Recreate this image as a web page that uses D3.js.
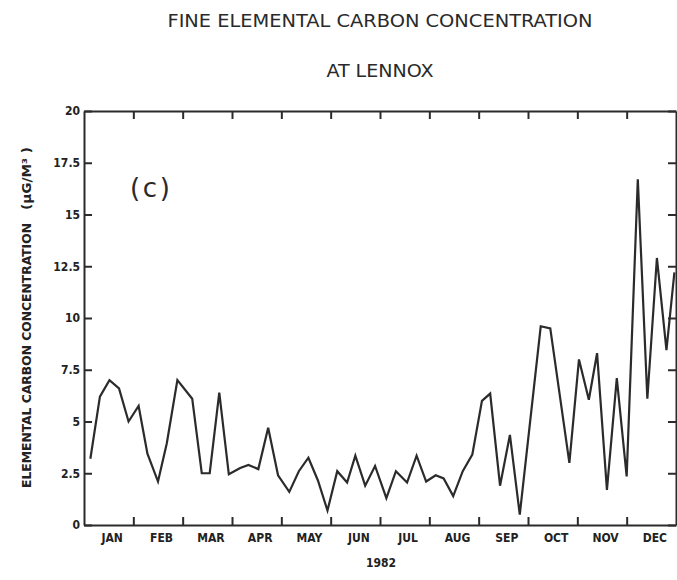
<!DOCTYPE html>
<html>
<head>
<meta charset="utf-8">
<script src="https://cdn.jsdelivr.net/npm/d3@7"></script>
<style>
  html, body { margin: 0; padding: 0; background: #ffffff; }
  svg { display: block; }
  .axis path, .axis line { stroke: #2b2b2b; stroke-width: 2px; }
  .axis text { font-family: "DejaVu Sans Condensed", "DejaVu Sans", sans-serif; font-weight: bold; font-size: 12px; fill: #222; }
</style>
</head>
<body>
<div id="chart"></div>
<script>
// Fine elemental carbon, Lennox, 1982 — one filter sample roughly every six days
const sampleDates = [
  "1982-01-05", "1982-01-11", "1982-01-17", "1982-01-23", "1982-01-29",
  "1982-02-04", "1982-02-09", "1982-02-15", "1982-02-20", "1982-02-26",
  "1982-03-07", "1982-03-13", "1982-03-18", "1982-03-24", "1982-03-30",
  "1982-04-06", "1982-04-11", "1982-04-17", "1982-04-23", "1982-04-29",
  "1982-05-06", "1982-05-12", "1982-05-18", "1982-05-24", "1982-05-30",
  "1982-06-05", "1982-06-11", "1982-06-16", "1982-06-22", "1982-06-28",
  "1982-07-05", "1982-07-11", "1982-07-18", "1982-07-24", "1982-07-30",
  "1982-08-05", "1982-08-10", "1982-08-16", "1982-08-22", "1982-08-28",
  "1982-09-03", "1982-09-08", "1982-09-14", "1982-09-20", "1982-09-26",
  "1982-10-09", "1982-10-15", "1982-10-27",
  "1982-11-02", "1982-11-08", "1982-11-13", "1982-11-19", "1982-11-25",
  "1982-12-01", "1982-12-08", "1982-12-14", "1982-12-20", "1982-12-26", "1982-12-31"
];
const ecValues = [
  3.2, 6.2, 7.0, 6.6, 5.0,
  5.75, 3.45, 2.1, 3.95, 7.0,
  6.1, 2.5, 2.5, 6.4, 2.45,
  2.75, 2.9, 2.7, 4.7, 2.4,
  1.6, 2.6, 3.25, 2.15, 0.7,
  2.6, 2.05, 3.35, 1.9, 2.85,
  1.3, 2.6, 2.05, 3.35, 2.1,
  2.4, 2.25, 1.4, 2.6, 3.4,
  6.0, 6.35, 1.9, 4.35, 0.5,
  9.6, 9.5, 3.0,
  8.0, 6.05, 8.3, 1.7, 7.1,
  2.35, 16.7, 6.1, 12.9, 8.45, 12.2
];
const monthNames = ["JAN", "FEB", "MAR", "APR", "MAY", "JUN", "JUL", "AUG", "SEP", "OCT", "NOV", "DEC"];
const yTickValues = [0, 2.5, 5, 7.5, 10, 12.5, 15, 17.5, 20];
const yTickLabels = ["0", "2.5", "5", "7.5", "10", "12.5", "15", "17.5", "20"];

const W = 677, H = 580;
const plot = { left: 84, right: 676, top: 111, bottom: 525 };

const svg = d3.select("#chart").append("svg")
  .attr("width", W).attr("height", H);

// The time axis gives every month the same width
const parse = d3.timeParse("%Y-%m-%d");
function monthPosition(str) {
  const d = parse(str);
  const m = d.getMonth();
  const days = new Date(d.getFullYear(), m + 1, 0).getDate();
  return m + (d.getDate() - 1) / days;
}

const x = d3.scaleLinear().domain([0, 12]).range([plot.left, plot.right]);
const y = d3.scaleLinear().domain([0, 20]).range([plot.bottom, plot.top]);

const points = sampleDates.map((s, i) => ({ m: monthPosition(s), v: ecValues[i] }));

// Titles
const condFont = '"DejaVu Sans Condensed", "DejaVu Sans", sans-serif';
svg.append("text")
  .attr("x", 380).attr("y", 27)
  .attr("text-anchor", "middle")
  .attr("font-family", condFont).attr("font-size", 17)
  .attr("fill", "#2a2a2a")
  .attr("textLength", 425).attr("lengthAdjust", "spacingAndGlyphs")
  .text("FINE ELEMENTAL CARBON CONCENTRATION");
svg.append("text")
  .attr("x", 380).attr("y", 77)
  .attr("text-anchor", "middle")
  .attr("font-family", condFont).attr("font-size", 17)
  .attr("fill", "#2a2a2a")
  .attr("textLength", 107).attr("lengthAdjust", "spacingAndGlyphs")
  .text("AT LENNOX");

// Clip the series to the plot frame
svg.append("clipPath").attr("id", "plot-clip")
  .append("rect")
  .attr("x", x(0)).attr("y", y(20))
  .attr("width", x(12) - x(0)).attr("height", y(0) - y(20));

const monthBounds = d3.range(1, 12);
const monthCentres = d3.range(12).map(i => i + 0.5);

// Left axis with inward ticks and labels
svg.append("g").attr("class", "axis")
  .attr("transform", `translate(${x(0)},0)`)
  .call(d3.axisLeft(y).tickValues(yTickValues)
    .tickFormat((d, i) => yTickLabels[i])
    .tickSizeInner(-8).tickSizeOuter(0).tickPadding(4));

// Right axis, ticks only
svg.append("g").attr("class", "axis")
  .attr("transform", `translate(${x(12)},0)`)
  .call(d3.axisRight(y).tickValues(yTickValues).tickFormat("")
    .tickSizeInner(-8).tickSizeOuter(0));

// Bottom axis: month boundaries
svg.append("g").attr("class", "axis")
  .attr("transform", `translate(0,${y(0)})`)
  .call(d3.axisBottom(x).tickValues(monthBounds).tickFormat("")
    .tickSizeInner(-8).tickSizeOuter(0));

// Top axis: month boundaries
svg.append("g").attr("class", "axis")
  .attr("transform", `translate(0,${y(20)})`)
  .call(d3.axisTop(x).tickValues(monthBounds).tickFormat("")
    .tickSizeInner(-8).tickSizeOuter(0));

// Month names centred in each month
const monthAxis = svg.append("g").attr("class", "axis")
  .attr("transform", `translate(3,${y(0)})`)
  .call(d3.axisBottom(x).tickValues(monthCentres)
    .tickFormat((d, i) => monthNames[i])
    .tickSize(0).tickPadding(8));
monthAxis.select(".domain").remove();

// Year label
svg.append("text")
  .attr("x", 381).attr("y", 567)
  .attr("text-anchor", "middle")
  .attr("font-family", condFont).attr("font-weight", "bold").attr("font-size", 12)
  .attr("fill", "#222")
  .text("1982");

// Y axis title
svg.append("text")
  .attr("transform", "translate(31,355.5) rotate(-90)")
  .attr("text-anchor", "middle")
  .attr("font-family", condFont).attr("font-weight", "bold").attr("font-size", 12)
  .attr("fill", "#222")
  .attr("textLength", 265).attr("lengthAdjust", "spacingAndGlyphs")
  .text("ELEMENTAL CARBON CONCENTRATION");
svg.append("text")
  .attr("transform", "translate(31,178.5) rotate(-90)")
  .attr("text-anchor", "middle")
  .attr("font-family", condFont).attr("font-weight", "bold").attr("font-size", 12)
  .attr("fill", "#222")
  .attr("textLength", 63).attr("lengthAdjust", "spacingAndGlyphs")
  .text("(\u00B5G/M\u00B3 )");

// Panel tag
svg.append("text")
  .attr("x", 150).attr("y", 197)
  .attr("text-anchor", "middle")
  .attr("font-family", '"DejaVu Sans", sans-serif').attr("font-size", 26)
  .attr("fill", "#2a2a2a")
  .attr("textLength", 40).attr("lengthAdjust", "spacing")
  .text("(c)");

// Concentration series
const line = d3.line().x(d => x(d.m)).y(d => y(d.v));
svg.append("path")
  .datum(points)
  .attr("clip-path", "url(#plot-clip)")
  .attr("fill", "none")
  .attr("stroke", "#2b2b2b")
  .attr("stroke-width", 2.2)
  .attr("stroke-linejoin", "miter")
  .attr("d", line);
</script>
</body>
</html>
